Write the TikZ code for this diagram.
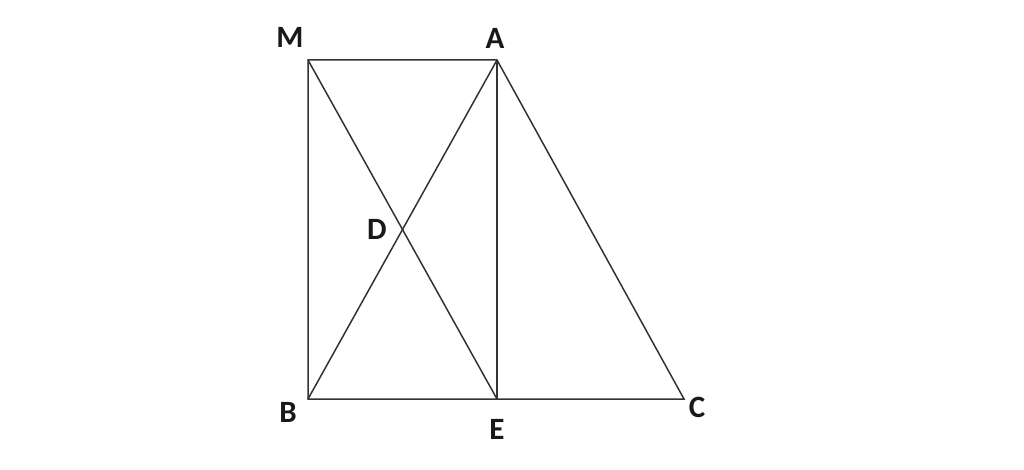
\documentclass[tikz,border=0pt]{standalone}
\usepackage{fontspec}
\setmainfont{Carlito}
\begin{document}
\begin{tikzpicture}[x=1pt,y=-1pt,
  seg/.style={draw=black!80,line width=1.5pt},
  lbl/.style={font=\fontsize{31}{31}\selectfont\bfseries,text=black!90,inner sep=0pt}]
\useasboundingbox (0,0) rectangle (1024,470);
\coordinate (M) at (308,60);
\coordinate (A) at (497,60);
\coordinate (B) at (308,399);
\coordinate (E) at (497,399);
\coordinate (C) at (684,399);
\coordinate (D) at (402.5,229.5);
\draw[seg] (M) -- (A) -- (C) -- (B) -- cycle;
\draw[seg] (M) -- (E);
\draw[seg] (A) -- (B);
\draw[seg] (A) -- (E);
\node[lbl] (lM) at (290,37) {M};
\node[lbl] (lA) at (495,38) {A};
\node[lbl] (lD) at (377,229) {D};
\node[lbl] (lB) at (288,412) {B};
\node[lbl] (lE) at (497,429) {E};
\node[lbl] (lC) at (697,407) {C};
\end{tikzpicture}
\end{document}
